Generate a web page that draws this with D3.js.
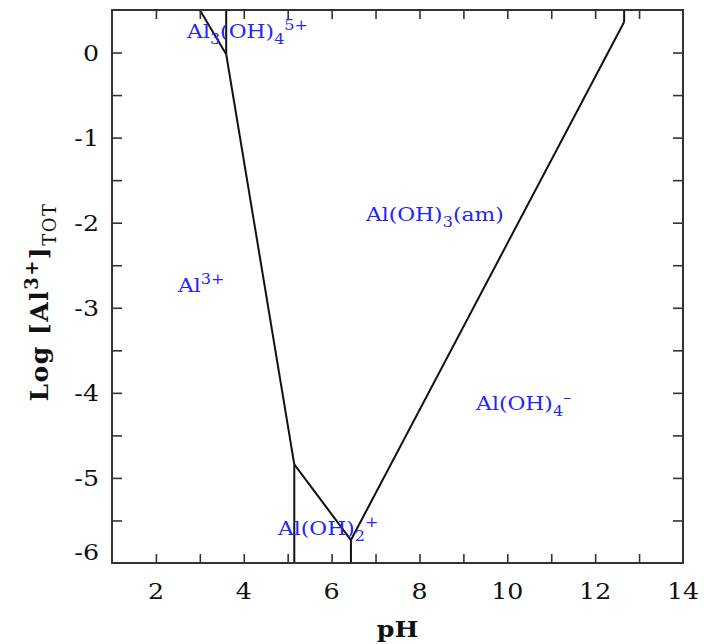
<!DOCTYPE html>
<html>
<head>
<meta charset="utf-8">
<script src="https://cdn.jsdelivr.net/npm/d3@7/dist/d3.min.js"></script>
<style>
  html, body { margin: 0; padding: 0; background: #fff; }
  svg { display: block; }
</style>
</head>
<body>
<svg id="chart" width="704" height="644"></svg>
<script>
// ---- data ----
const xDomain = [1, 14];
const yDomain = [-6, 0.5];
const xTickValues = [2, 3, 4, 5, 6, 7, 8, 9, 10, 11, 12, 13];
const xTickLabels = [2, 4, 6, 8, 10, 12, 14];
const yTickValues = [-5.5, -5, -4.5, -4, -3.5, -3, -2.5, -2, -1.5, -1, -0.5, 0];
const yTickLabels = [0, -1, -2, -3, -4, -5, -6];

// boundary segments: [pH, logAl] pairs
const boundaries = [
  [[3.0, 0.5], [3.6, -0.02]],
  [[3.6, 0.5], [3.6, -0.02]],
  [[3.6, -0.02], [5.15, -4.84]],
  [[5.15, -4.84], [5.15, -6]],
  [[5.15, -4.84], [6.44, -5.73]],
  [[6.44, -5.73], [6.44, -6]],
  [[6.44, -5.73], [12.66, 0.36]],
  [[12.66, 0.36], [12.66, 0.5]]
];

// species labels: pH, logAl (baseline), text parts [text, kind]
const speciesNames = ["Al3+", "Al(OH)3(am)", "Al(OH)4-", "Al(OH)2+", "Al3(OH)45+"];
const speciesPH = [2.5, 6.78, 9.29, 4.78, 2.71];
const speciesLog = [-2.82, -1.98, -4.2, -5.67, 0.17];
const speciesParts = [
  [["Al", "n"], ["3+", "sup"]],
  [["Al(OH)", "n"], ["3", "sub"], ["(am)", "n"]],
  [["Al(OH)", "n"], ["4", "sub"], ["\u2013", "sup"]],
  [["Al(OH)", "n"], ["2", "sub"], ["+", "sup"]],
  [["Al", "n"], ["3", "sub"], ["(OH)", "n"], ["4", "sub"], ["5+", "sup"]]
];

// ---- layout ----
const svg = d3.select("#chart");
const L = 112, R = 683, T = 10, B = 563;
const x = d3.scaleLinear().domain(xDomain).range([L, R]);
const y = d3.scaleLinear().domain(yDomain).range([B, T]);
const FONT = "'DejaVu Serif', serif";
const SX = 1.15;

const g = svg.append("g");

// boundary lines
const line = d3.line().x(d => x(d[0])).y(d => y(d[1]));
g.selectAll("path.b").data(boundaries).enter().append("path")
  .attr("class", "b")
  .attr("d", line)
  .attr("fill", "none")
  .attr("stroke", "#111")
  .attr("stroke-width", 2);

// frame
g.append("rect").attr("x", L).attr("y", T).attr("width", R - L).attr("height", B - T)
  .attr("fill", "none").attr("stroke", "#333").attr("stroke-width", 2);

// axes ticks (inward, mirrored)
const tl = 9;
const bottomAxis = d3.axisBottom(x).tickValues(xTickValues).tickSize(-tl).tickFormat("");
const topAxis = d3.axisTop(x).tickValues(xTickValues).tickSize(-tl).tickFormat("");
const leftAxis = d3.axisLeft(y).tickValues(yTickValues).tickSize(-10).tickFormat("");
const rightAxis = d3.axisRight(y).tickValues(yTickValues).tickSize(-10).tickFormat("");
[[bottomAxis, `translate(0,${B})`], [topAxis, `translate(0,${T})`],
 [leftAxis, `translate(${L},0)`], [rightAxis, `translate(${R},0)`]].forEach(([ax, tr]) => {
  const a = g.append("g").attr("transform", tr).call(ax);
  a.select(".domain").remove();
  a.selectAll(".tick line").attr("stroke", "#333").attr("stroke-width", 1.6);
});

// tick labels
g.selectAll("text.xl").data(xTickLabels).enter().append("text")
  .attr("class", "xl")
  .attr("transform", d => `translate(${x(d)},${B + 36}) scale(${SX},1)`)
  .attr("text-anchor", "middle")
  .attr("font-family", FONT).attr("font-size", 22).attr("fill", "#111")
  .text(d => d);

g.selectAll("text.yl").data(yTickLabels).enter().append("text")
  .attr("class", "yl")
  .attr("transform", d => `translate(${L - 13},${y(d) + 8 - (d === yDomain[0] ? 11 : 0)}) scale(${SX},1)`)
  .attr("text-anchor", "end")
  .attr("font-family", FONT).attr("font-size", 22).attr("fill", "#111")
  .text(d => d);

// axis titles
svg.append("text")
  .attr("transform", `translate(${(L + R) / 2},637) scale(${SX},1)`)
  .attr("text-anchor", "middle")
  .attr("font-family", FONT).attr("font-size", 22).attr("font-weight", "bold").attr("fill", "#111")
  .text("pH");

const yt = svg.append("text")
  .attr("transform", `translate(48,302) rotate(-90)`)
  .attr("text-anchor", "middle")
  .attr("font-family", FONT).attr("font-size", 25).attr("font-weight", "bold")
  .attr("letter-spacing", 1.5).attr("fill", "#111");
yt.append("tspan").text("Log [Al");
yt.append("tspan").attr("dy", -10).attr("font-size", 18).text("3+");
yt.append("tspan").attr("dy", 10).text("]");
yt.append("tspan").attr("dy", 8).attr("font-size", 18).attr("font-weight", "normal").text("TOT");

// species labels
speciesNames.forEach((name, i) => {
  const t = svg.append("text")
    .attr("transform", `translate(${x(speciesPH[i])},${y(speciesLog[i])}) scale(${SX},1)`)
    .attr("font-family", FONT).attr("font-size", 19).attr("fill", "#2424ff");
  let base = 0;
  speciesParts[i].forEach(([s, kind]) => {
    const target = kind === "sub" ? 6 : kind === "sup" ? -8 : 0;
    t.append("tspan").attr("dy", target - base)
      .attr("font-size", kind === "n" ? 19 : 14).text(s);
    base = target;
  });
});
</script>
</body>
</html>
